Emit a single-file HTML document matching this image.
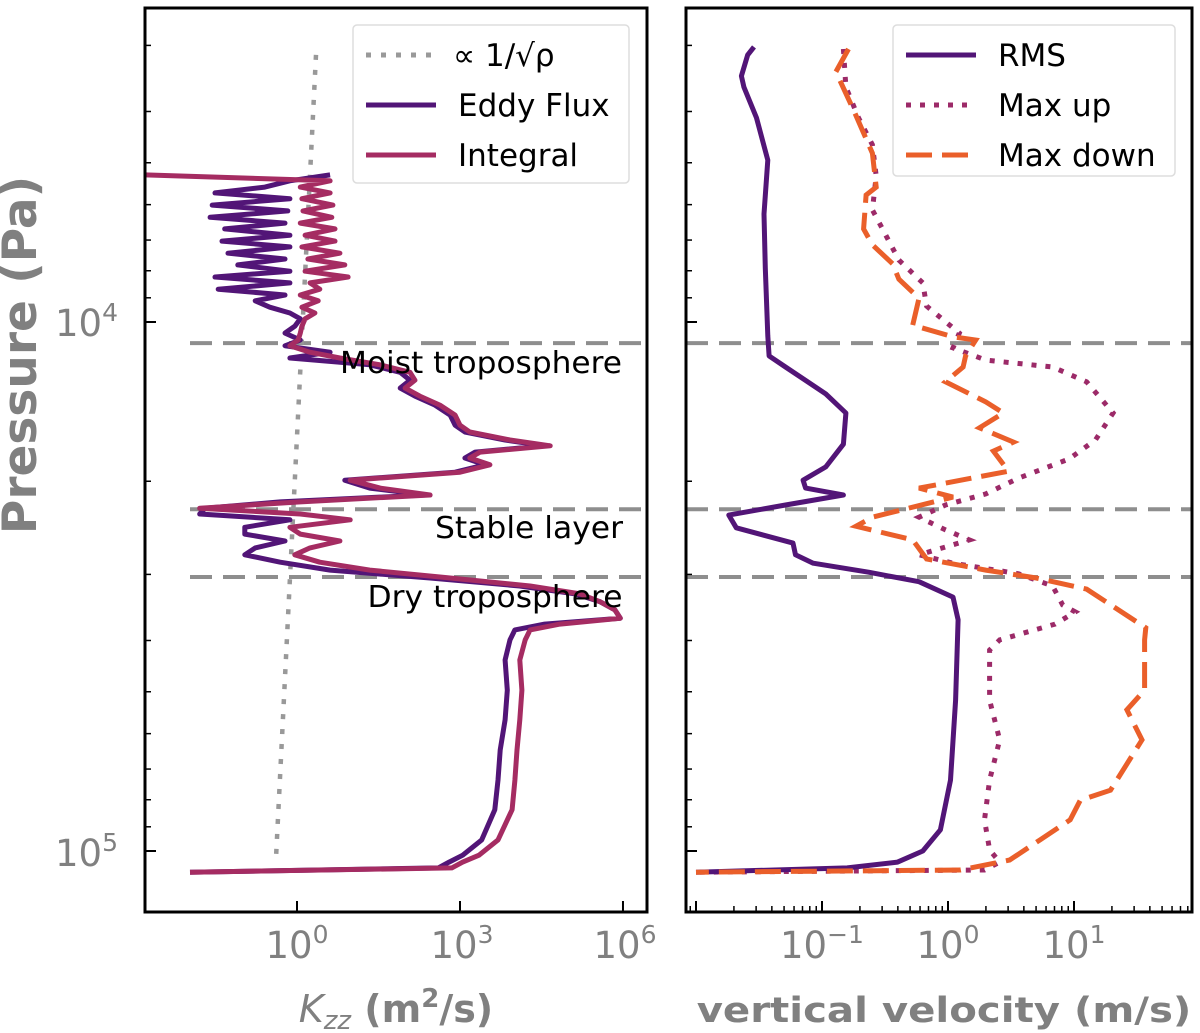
<!DOCTYPE html>
<html><head><meta charset="utf-8"><style>
html,body{margin:0;padding:0;background:#fff;}
svg{display:block;font-family:"DejaVu Sans","Liberation Sans",sans-serif;}
</style></head><body>
<svg id="fig" width="1200" height="1033" viewBox="0 0 1200 1033" xmlns="http://www.w3.org/2000/svg">
<rect x="0" y="0" width="1200" height="1033" fill="#fff"/>
<defs>
<clipPath id="clipL"><rect x="145" y="8" width="502" height="904"/></clipPath>
<clipPath id="clipR"><rect x="686" y="8" width="506" height="904"/></clipPath>
</defs>
<g id="left"></g>
<g id="right"></g>
<text transform="translate(36,355) rotate(-90)" text-anchor="middle" font-size="47" font-weight="bold" fill="#808080">Pressure (Pa)</text>
<text x="118" y="336" text-anchor="end" font-size="37" fill="#808080">10<tspan dy="-15" font-size="25">4</tspan></text>
<text x="118" y="866" text-anchor="end" font-size="37" fill="#808080">10<tspan dy="-15" font-size="25">5</tspan></text>
<text x="297" y="958" text-anchor="middle" font-size="37" fill="#808080">10<tspan dy="-15" font-size="25">0</tspan></text>
<text x="462" y="958" text-anchor="middle" font-size="37" fill="#808080">10<tspan dy="-15" font-size="25">3</tspan></text>
<text x="625" y="958" text-anchor="middle" font-size="37" fill="#808080">10<tspan dy="-15" font-size="25">6</tspan></text>
<text x="822" y="958" text-anchor="middle" font-size="37" fill="#808080">10<tspan dy="-15" font-size="25">−1</tspan></text>
<text x="948" y="958" text-anchor="middle" font-size="37" fill="#808080">10<tspan dy="-15" font-size="25">0</tspan></text>
<text x="1074" y="958" text-anchor="middle" font-size="37" fill="#808080">10<tspan dy="-15" font-size="25">1</tspan></text>
<text x="396" y="1022" text-anchor="middle" font-size="38" fill="#808080"><tspan font-style="italic">K</tspan><tspan font-style="italic" font-size="26" dy="7">zz</tspan><tspan dy="-7" font-weight="bold"> (m</tspan><tspan font-weight="bold" font-size="26" dy="-15">2</tspan><tspan font-weight="bold" dy="15">/s)</tspan></text>
<text transform="translate(944,1022) scale(1.15,1)" x="0" y="0" text-anchor="middle" font-size="35" font-weight="bold" fill="#808080">vertical velocity (m/s)</text>
</svg>
<script>
// ---- Left panel data (log10 pressure Pa, log10 Kzz m2/s)
const kzzLogP = [3.722,3.733,3.745,3.756,3.767,3.779,3.790,3.802,3.813,3.824,3.836,3.847,3.858,3.870,3.881,3.892,3.904,3.915,3.926,3.938,3.949,3.960,3.972,3.983,3.994,
4.008,4.021,4.034,4.045,4.057,4.068,4.081,4.095,4.110,4.125,4.140,4.157,4.176,4.195,4.208,4.223,4.234,4.246,4.257,4.270,4.284,4.299,4.314,4.327,4.340,4.352,
4.363,4.374,4.388,4.401,4.414,4.427,4.440,4.454,4.469,4.484,4.499,4.514,4.529,4.544,4.560,4.571,4.582,4.601,4.639,4.696,4.752,4.809,4.866,4.922,4.979,5.008,5.021,5.032,5.040];
const integralLogK = [-2.80,0.61,0.06,0.61,0.09,0.66,0.11,0.64,0.06,0.70,0.15,0.70,0.09,0.79,0.20,0.88,0.15,0.94,0.24,0.42,0.06,0.39,0.09,0.33,0.15,
0.09,0.06,0.02,-0.13,0.24,0.79,1.53,2.08,2.17,1.99,2.26,2.63,2.91,3.00,3.18,3.92,4.66,3.37,3.18,3.55,3.00,0.98,1.53,2.45,0.06,-1.79,
0.06,0.98,-0.13,0.06,0.79,0.24,-0.04,0.42,1.34,2.82,4.29,5.21,5.58,5.85,5.95,4.84,4.29,4.20,4.10,4.14,4.10,4.05,4.01,3.96,3.70,3.35,3.05,2.85,-1.97];
const eddyLogK = [0.61,-0.13,-0.59,-1.51,-0.13,-1.56,-0.17,-1.60,-0.22,-1.33,-0.13,-1.38,-0.13,-1.27,-0.22,-1.09,-0.13,-1.51,-0.13,-1.45,-0.22,-0.77,-0.50,-0.13,0.06,
-0.04,-0.22,0.06,-0.22,0.61,-0.13,1.34,1.90,2.08,1.90,2.17,2.54,2.82,2.91,3.09,3.83,4.56,3.28,3.09,3.46,2.91,0.88,1.34,2.36,-0.31,-1.69,
-1.79,-0.13,-0.96,-0.96,-0.22,-0.77,-0.96,-0.31,0.61,2.45,4.10,5.12,5.58,5.85,5.95,4.56,4.01,3.92,3.83,3.87,3.83,3.74,3.70,3.64,3.40,3.05,2.80,2.60,-1.97];
const rhoLogP = [3.495,5.021];
const rhoLogK = [0.35,-0.39];
const layerLogP = [4.040,4.354,4.482];
// ---- Right panel data (log10 pressure, log10 velocity m/s)
const rmsLogP = [3.480,3.495,3.535,3.556,3.614,3.694,3.796,3.898,4.026,4.064,4.085,4.136,4.172,4.231,4.274,4.299,4.314,4.327,4.346,4.365,4.389,4.418,4.440,4.456,4.473,4.491,4.520,4.563,4.715,4.866,4.960,5.000,5.021,5.032,5.040];
const rmsLogV = [-1.54,-1.59,-1.64,-1.62,-1.52,-1.43,-1.46,-1.45,-1.43,-1.42,-1.29,-0.97,-0.81,-0.83,-0.97,-1.15,-1.13,-0.83,-1.29,-1.74,-1.68,-1.23,-1.21,-1.07,-0.63,-0.23,0.04,0.08,0.06,0.02,-0.06,-0.20,-0.40,-0.80,-2.0];
const downLogP = [3.484,3.527,3.599,3.681,3.745,3.760,3.824,3.854,3.890,3.919,3.955,4.006,4.028,4.034,4.064,4.085,4.113,4.151,4.172,4.200,4.227,4.244,4.282,4.314,4.331,4.369,4.386,4.412,4.448,4.469,4.484,4.505,4.578,4.601,4.696,4.733,4.790,4.828,4.885,4.904,4.941,4.979,5.017,5.036,5.040];
const downLogV = [-0.79,-0.89,-0.75,-0.60,-0.57,-0.65,-0.67,-0.60,-0.44,-0.39,-0.23,-0.28,0.04,0.22,0.14,0.12,-0.02,0.30,0.44,0.25,0.52,0.36,0.48,-0.23,0.04,-0.60,-0.73,-0.28,-0.17,0.30,0.70,1.10,1.57,1.56,1.56,1.42,1.54,1.44,1.29,1.05,0.97,0.73,0.49,0.10,-2.0];
const upLogP = [3.484,3.556,3.614,3.665,3.724,3.788,3.824,3.883,3.926,3.970,4.021,4.049,4.072,4.085,4.113,4.172,4.223,4.259,4.295,4.325,4.346,4.369,4.393,4.412,4.440,4.456,4.476,4.499,4.535,4.548,4.571,4.601,4.620,4.715,4.790,4.866,4.941,4.998,5.021,5.036,5.040];
const upLogV = [-0.83,-0.81,-0.71,-0.60,-0.57,-0.60,-0.52,-0.39,-0.20,-0.17,0.09,0.04,0.30,0.83,1.10,1.31,1.17,0.96,0.56,0.30,-0.02,-0.23,-0.02,0.17,-0.23,0.04,0.56,0.83,0.91,1.01,0.85,0.41,0.33,0.33,0.41,0.33,0.29,0.33,0.41,0.29,-2.0];

const NS='http://www.w3.org/2000/svg';
const Y0=322, DEC=529;
const yS = lp => Y0 + (lp-4)*DEC;
const xL = lk => 297 + lk*54.33;
const xR = lv => 948 + lv*126;

function mk(tag, parent, attrs){const e=document.createElementNS(NS,tag);for(const k in attrs)e.setAttribute(k,attrs[k]);parent.appendChild(e);return e;}
function pathD(xs, ys, fx){return xs.map((v,i)=>(i?'L':'M')+fx(v).toFixed(1)+' '+yS(ys[i]).toFixed(1)).join(' ');}

const L=document.getElementById('left'), R=document.getElementById('right');
const gL=mk('g',L,{'clip-path':'url(#clipL)'});
const gR=mk('g',R,{'clip-path':'url(#clipR)'});

layerLogP.forEach((lp,i)=>{
  const a=mk('line',gL,{x1:190,x2:647,y1:yS(lp),y2:yS(lp),stroke:'#8e8e8e','stroke-width':4,'stroke-dasharray':'22 11'});
  
  
  const b=mk('line',gR,{x1:686,x2:1192,y1:yS(lp),y2:yS(lp),stroke:'#8e8e8e','stroke-width':4,'stroke-dasharray':'22 11'});
  
  
});

const rho=mk('path',gL,{d:pathD(rhoLogK,rhoLogP,xL),fill:'none',stroke:'#999','stroke-width':4.5,'stroke-dasharray':'5 10'});


const ed=mk('path',gL,{d:pathD(eddyLogK,kzzLogP,xL),fill:'none',stroke:'#521577','stroke-width':5,'stroke-linejoin':'round'});


const ig=mk('path',gL,{d:pathD(integralLogK,kzzLogP,xL),fill:'none',stroke:'#a52c62','stroke-width':5,'stroke-linejoin':'round'});



const up=mk('path',gR,{d:pathD(upLogV,upLogP,xR),fill:'none',stroke:'#9c2a68','stroke-width':5,'stroke-dasharray':'5 9'});


const rm=mk('path',gR,{d:pathD(rmsLogV,rmsLogP,xR),fill:'none',stroke:'#521577','stroke-width':5,'stroke-linejoin':'round'});


const dn=mk('path',gR,{d:pathD(downLogV,downLogP,xR),fill:'none',stroke:'#ea5f2a','stroke-width':5,'stroke-dasharray':'26 10'});



[['Moist troposphere',481,373,282],['Stable layer',529,538,188],['Dry troposphere',495,607,255]].forEach(t=>{
  const e=mk('text',L,{x:t[1],y:t[2],'text-anchor':'middle','font-size':30,fill:'#000',textLength:t[3],lengthAdjust:'spacingAndGlyphs'});
  e.textContent=t[0];
  
  
});

function yTicks(parent, x0){
  for(let d=3; d<=5; d++){
    for(let m=1;m<=9;m++){
      const lp=d+Math.log10(m); const y=yS(lp);
      if(y<8||y>912) continue;
      const len = m===1?11:6;
      const t=mk('line',parent,{x1:x0,x2:x0+len,y1:y,y2:y,stroke:'#000','stroke-width':m===1?2:1.5});
      
      
    }
  }
}
yTicks(L,145); yTicks(R,686);
[0,3,6].forEach(k=>{
  const t=mk('line',L,{x1:xL(k),x2:xL(k),y1:912,y2:901,stroke:'#000','stroke-width':2});
  
  
});
for(let d=-3; d<=1; d++){
  for(let m=1;m<=9;m++){
    const x=xR(d+Math.log10(m));
    if(x<686||x>1192) continue;
    const len=m===1?11:6;
    const t=mk('line',R,{x1:x,x2:x,y1:912,y2:912-len,stroke:'#000','stroke-width':m===1?2:1.5});
    
    
  }
}
const fL=mk('rect',L,{x:145,y:8,width:502,height:904,fill:'none',stroke:'#000','stroke-width':3});


const fR=mk('rect',R,{x:686,y:8,width:506,height:904,fill:'none',stroke:'#000','stroke-width':3});



function legend(parent, x, y, w, h, items, name){
  const g=mk('g',parent,{});
  
  
  mk('rect',g,{x:x,y:y,width:w,height:h,rx:4,fill:'#fff','fill-opacity':0.85,stroke:'#ddd','stroke-width':1.5});
  items.forEach((it,i)=>{
    const cy=y+30+i*50;
    const ln=mk('line',g,{x1:x+13,x2:x+83,y1:cy,y2:cy,stroke:it.c,'stroke-width':5,'stroke-dasharray':it.d||'none'});
    
    
    const t=mk('text',g,{x:x+it.tx,y:cy+11,'font-size':31,fill:'#000'});
    t.textContent=it.t;
    
    
  });
}
legend(L,353,25,276,158,[{c:'#999',d:'5 10',t:'∝ 1/√ρ',tx:100},{c:'#521577',t:'Eddy Flux',tx:105},{c:'#a52c62',t:'Integral',tx:105}],'kzz-legend');
legend(R,893,25,282,151,[{c:'#521577',t:'RMS',tx:105},{c:'#9c2a68',d:'5 9',t:'Max up',tx:105},{c:'#ea5f2a',d:'26 10',t:'Max down',tx:105}],'velocity-legend');
</script>
</body></html>
